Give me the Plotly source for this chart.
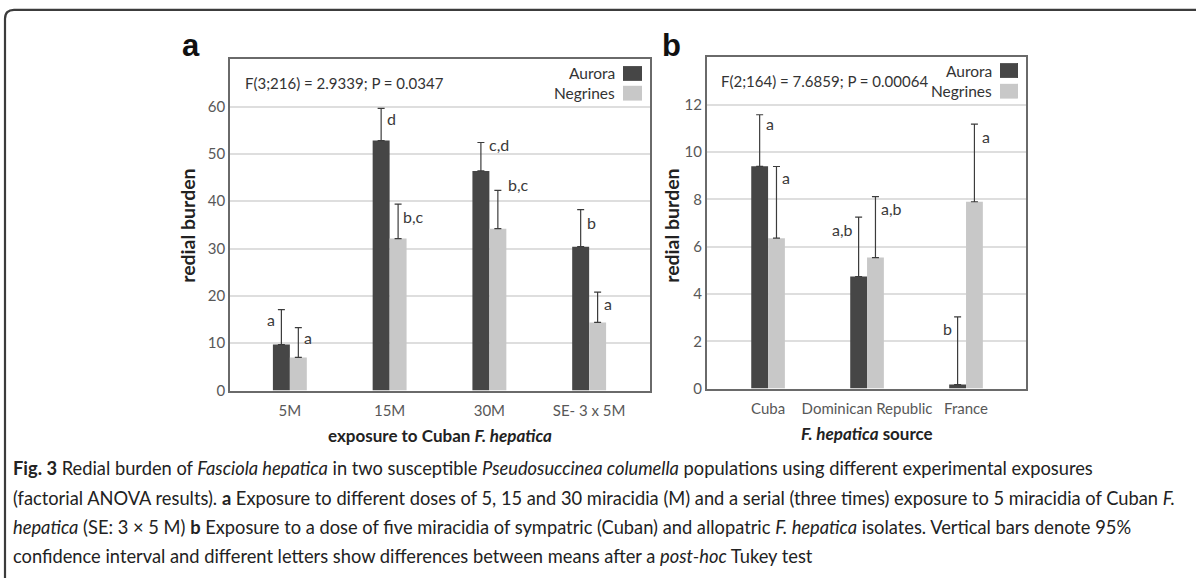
import plotly.graph_objects as go

# ---------------- data ----------------
cats_a = ["5M", "15M", "30M", "SE- 3 x 5M"]
aurora_a = [9.7, 52.8, 46.4, 30.4]
aurora_a_hi = [17.1, 59.6, 52.4, 38.2]
negrines_a = [7.0, 32.1, 34.2, 14.4]
negrines_a_hi = [13.3, 39.4, 42.3, 20.8]
letters_aurora_a = ["a", "d", "c,d", "b"]
letters_negrines_a = ["a", "b,c", "b,c", "a"]

cats_b = ["Cuba", "Dominican Republic", "France"]
aurora_b = [9.4, 4.74, 0.17]
aurora_b_hi = [11.58, 7.25, 3.03]
negrines_b = [6.36, 5.54, 7.9]
negrines_b_hi = [9.39, 8.12, 11.18]
letters_aurora_b = ["a", "a,b", "b"]
letters_negrines_b = ["a", "a,b", "a"]

stats_a = "F(3;216) = 2.9339; P = 0.0347"
stats_b = "F(2;164) = 7.6859; P = 0.00064"
series_names = ["Aurora", "Negrines"]

# ---------------- style ----------------
W, H = 1196, 581
DARK = "#464646"
LIGHT = "#c8c8c8"
FONT = "Lato"
TICKC = "#585858"
BARGAP = 0.66


def X(px):
    return px / W


def Y(px):
    return 1 - px / H


fig = go.Figure()


def add_panel(cats, a_vals, a_hi, n_vals, n_hi, xa, ya):
    xs = list(range(len(cats)))
    for name, vals, hi, col in [("Aurora", a_vals, a_hi, DARK), ("Negrines", n_vals, n_hi, LIGHT)]:
        fig.add_trace(go.Bar(
            x=xs, y=vals, name=name, marker=dict(color=col, line=dict(width=0)),
            xaxis=xa, yaxis=ya, showlegend=False,
            error_y=dict(type="data", symmetric=False,
                         array=[h - v for h, v in zip(hi, vals)],
                         arrayminus=[0] * len(vals),
                         color="#3c3c3c", thickness=1.2, width=3.5),
        ))


add_panel(cats_a, aurora_a, aurora_a_hi, negrines_a, negrines_a_hi, "x", "y")
add_panel(cats_b, aurora_b, aurora_b_hi, negrines_b, negrines_b_hi, "x2", "y2")

axis_common = dict(showline=True, linecolor="#6a6a6a", linewidth=1.5, mirror=True,
                   tickfont=dict(family=FONT, size=15, color=TICKC), zeroline=False)

fig.update_layout(
    width=W, height=H, margin=dict(l=0, r=0, t=0, b=0),
    paper_bgcolor="white", plot_bgcolor="white",
    barmode="group", bargap=BARGAP, bargroupgap=0,
    font=dict(family=FONT),
    xaxis=dict(domain=[X(230), X(650)], range=[-0.6, 3.61], tickmode="array",
               tickvals=list(range(len(cats_a))), ticktext=cats_a, showgrid=False,
               anchor="y", ticks="outside", ticklen=6, tickcolor="rgba(0,0,0,0)", **axis_common),
    yaxis=dict(domain=[Y(396), Y(60)], range=[0, 70], tickvals=[0, 10, 20, 30, 40, 50, 60],
               showgrid=True, gridcolor="#dedede", gridwidth=1.5, anchor="x", ticks="",
               **axis_common),
    xaxis2=dict(domain=[X(706.7), X(1026)], range=[-0.62, 2.606], tickmode="array",
                tickvals=list(range(len(cats_b))), ticktext=cats_b, showgrid=False,
                anchor="y2", ticks="outside", ticklen=6, tickcolor="rgba(0,0,0,0)", **axis_common),
    yaxis2=dict(domain=[Y(394), Y(58.3)], range=[0, 14], tickvals=[0, 2, 4, 6, 8, 10, 12],
                showgrid=True, gridcolor="#dedede", gridwidth=1.5, anchor="x2", ticks="",
                **axis_common),
)

ann = []
shapes = []

# significance letters
off = (1 - BARGAP) / 4
# per-letter nudges (px): (side, dx, dy)  side -1 = left of bar line
nudges_a_aur = [(-1, 0, -10), (1, 0, -10), (1, 2, -2), (1, 0, -13)]
nudges_a_neg = [(1, 0, -10), (1, -1, -12), (1, 4, 6), (1, 0, -11)]
nudges_b_aur = [(1, 0, -9), (-1, 0, -12), (-1, 0, -12)]
nudges_b_neg = [(1, 0, -11), (1, 0, -12), (1, 2, -12)]


def add_letters(letters, hi, sign, nudges, xa, ya):
    for i, (t, h, (side, dx, dy)) in enumerate(zip(letters, hi, nudges)):
        ann.append(dict(
            x=i + sign * off, y=h, xref=xa, yref=ya, text=t, showarrow=False,
            xanchor="left" if side > 0 else "right", yanchor="middle",
            xshift=side * 4 + dx, yshift=dy,
            font=dict(family=FONT, size=16, color="#3a3a3a"),
        ))


add_letters(letters_aurora_a, aurora_a_hi, -1, nudges_a_aur, "x", "y")
add_letters(letters_negrines_a, negrines_a_hi, 1, nudges_a_neg, "x", "y")
add_letters(letters_aurora_b, aurora_b_hi, -1, nudges_b_aur, "x2", "y2")
add_letters(letters_negrines_b, negrines_b_hi, 1, nudges_b_neg, "x2", "y2")

# stats text
ann.append(dict(x=X(243), y=Y(84), xref="paper", yref="paper", text=stats_a, showarrow=False,
                xanchor="left", yanchor="middle", font=dict(family=FONT, size=15, color="#333")))
ann.append(dict(x=X(719), y=Y(82.5), xref="paper", yref="paper", text=stats_b, showarrow=False,
                xanchor="left", yanchor="middle", font=dict(family=FONT, size=15, color="#333")))


# legends
def legend(sq_x0, sq_x1, rows, text_right):
    for (y0, y1), name, col in zip(rows, series_names, [DARK, LIGHT]):
        shapes.append(dict(type="rect", xref="paper", yref="paper", x0=X(sq_x0), x1=X(sq_x1),
                           y0=Y(y1), y1=Y(y0), fillcolor=col, line=dict(width=0)))
        ann.append(dict(x=X(text_right), y=Y((y0 + y1) / 2), xref="paper", yref="paper", text=name,
                        showarrow=False, xanchor="right", yanchor="middle",
                        font=dict(family=FONT, size=15.5, color="#333")))


legend(623, 642, [(67, 82), (87, 102)], 617)
legend(1000, 1018, [(64, 79), (85, 100)], 994)

# panel letters
for txt, xl in (("a", 180), ("b", 660)):
    ann.append(dict(x=X(xl), y=Y(66), xref="paper", yref="paper", text=f"<b>{txt}</b>",
                    showarrow=False, xanchor="left", yanchor="bottom",
                    font=dict(family="Liberation Sans", size=31, color="#111")))

# axis titles
for xc in (188, 672):
    ann.append(dict(x=X(xc), y=Y(229), xref="paper", yref="paper", text="<b>redial burden</b>",
                    showarrow=False, textangle=-90, xanchor="center", yanchor="middle",
                    font=dict(family=FONT, size=19.5, color="#222")))
ann.append(dict(x=X(440), y=Y(442), xref="paper", yref="paper",
                text="<b>exposure to Cuban <i>F. hepatica</i></b>", showarrow=False,
                xanchor="center", yanchor="middle", font=dict(family=FONT, size=17, color="#222")))
ann.append(dict(x=X(867), y=Y(440), xref="paper", yref="paper",
                text="<b><i>F. hepatica</i> source</b>", showarrow=False,
                xanchor="center", yanchor="middle", font=dict(family=FONT, size=17, color="#222")))

# caption
caption = [
    "<b>Fig. 3</b> Redial burden of <i>Fasciola hepatica</i> in two susceptible <i>Pseudosuccinea columella</i> populations using different experimental exposures",
    "(factorial ANOVA results). <b>a</b> Exposure to different doses of 5, 15 and 30 miracidia (M) and a serial (three times) exposure to 5 miracidia of Cuban <i>F.</i>",
    "<i>hepatica</i> (SE: 3 × 5 M) <b>b</b> Exposure to a dose of five miracidia of sympatric (Cuban) and allopatric <i>F. hepatica</i> isolates. Vertical bars denote 95%",
    "confidence interval and different letters show differences between means after a <i>post-hoc</i> Tukey test",
]
for i, line in enumerate(caption):
    ann.append(dict(x=X(11), y=Y(475 + 29.5 * i), xref="paper", yref="paper", text=line,
                    showarrow=False, xanchor="left", yanchor="middle",
                    font=dict(family=FONT, size=18.3, color="#222")))

# outer frame (top + left with rounded corner)
path = (f"M {X(5)},{Y(H + 5)} L {X(5)},{Y(19)} Q {X(5)},{Y(10)} {X(14)},{Y(10)} L {X(W + 5)},{Y(10)}")
shapes.append(dict(type="path", xref="paper", yref="paper", path=path,
                   line=dict(color="#3c3c3c", width=2.2)))

fig.update_layout(annotations=ann, shapes=shapes)

fig.write_html(
    "out.html",
    config={"displayModeBar": False},
    post_script=("document.documentElement.style.margin='0';document.documentElement.style.overflow='hidden';"
                 "document.body.style.margin='0';document.body.style.overflow='hidden';"),
)
